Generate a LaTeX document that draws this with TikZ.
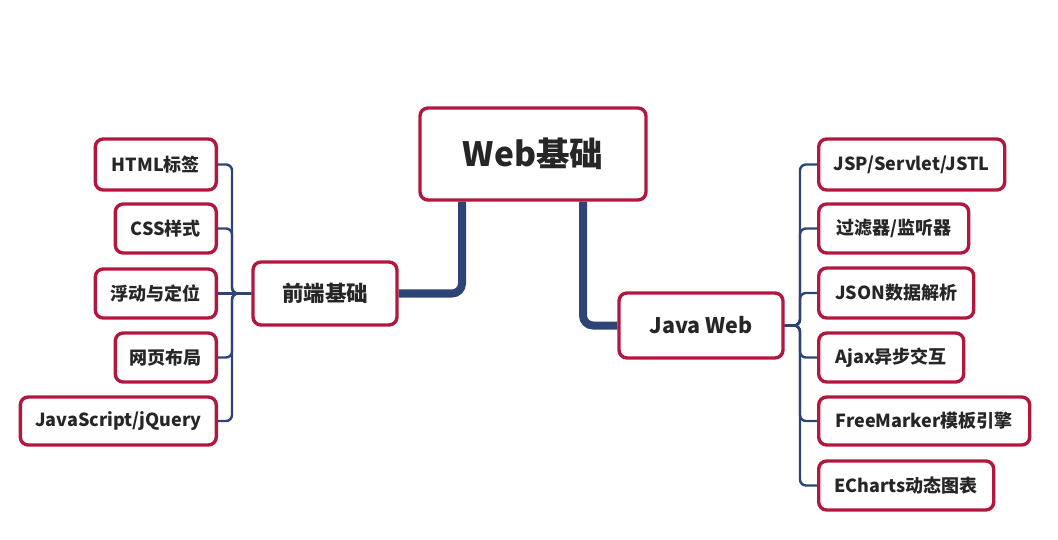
\documentclass[tikz,border=0pt]{standalone}
\usepackage{fontspec}
\newfontfamily\cjk{Noto Sans CJK SC}
\usetikzlibrary{backgrounds}
\definecolor{boxred}{RGB}{178,24,62}
\definecolor{linenavy}{RGB}{46,68,118}
\tikzset{
  box/.style={draw=boxred, line width=3.4pt, rounded corners=8pt, fill=white, inner sep=0pt,
    font=\cjk\bfseries\fontsize{18}{21}\selectfont, text=black!85},
  midbox/.style={box, font=\cjk\bfseries\fontsize{21.5}{24}\selectfont},
  rootbox/.style={box, font=\cjk\bfseries\fontsize{33.5}{38}\selectfont},
  conn/.style={draw=linenavy, line width=2.4pt, rounded corners=6pt},
  trunk/.style={draw=linenavy, line width=8pt, rounded corners=10pt},
}
\begin{document}
\begin{tikzpicture}[x=1pt,y=-1pt]
\useasboundingbox (0,0) rectangle (1058,540);
% root
\node[rootbox, minimum width=226pt, minimum height=92pt] (root) at (533,154) {Web基础};
% left branch
\node[midbox, minimum width=144pt, minimum height=63pt] (fe) at (325,293.5) {前端基础};
\node[box, minimum width=121pt, minimum height=51pt, anchor=east] (c1) at (218,164.5) {HTML标签};
\node[box, minimum width=101pt, minimum height=49pt, anchor=east] (c2) at (218,228.5) {CSS样式};
\node[box, minimum width=121pt, minimum height=49pt, anchor=east] (c3) at (218,293.5) {浮动与定位};
\node[box, minimum width=101pt, minimum height=49pt, anchor=east] (c4) at (218,357.5) {网页布局};
\node[box, minimum width=196pt, minimum height=48pt, anchor=east] (c5) at (218,421) {JavaScript/jQuery};
% right branch
\node[midbox, minimum width=164pt, minimum height=65pt] (jw) at (701,325.5) {Java Web};
\node[box, minimum width=186pt, minimum height=51pt, anchor=west] (d1) at (817,164.5) {JSP/Servlet/JSTL};
\node[box, minimum width=150pt, minimum height=49pt, anchor=west] (d2) at (817,228.5) {过滤器/监听器};
\node[box, minimum width=155pt, minimum height=50pt, anchor=west] (d3) at (817,293) {JSON数据解析};
\node[box, minimum width=145pt, minimum height=49pt, anchor=west] (d4) at (817,357.5) {Ajax异步交互};
\node[box, minimum width=211pt, minimum height=48pt, anchor=west] (d5) at (817,421) {FreeMarker模板引擎};
\node[box, minimum width=175pt, minimum height=49pt, anchor=west] (d6) at (817,485.5) {ECharts动态图表};
\coordinate (lx) at (232,0);
\coordinate (rx) at (800,0);
\begin{scope}[on background layer]
\draw[trunk] ([xshift=-71pt]root.south) |- (fe.east);
\draw[trunk] ([xshift=50pt]root.south) |- (jw.west);
\foreach \c in {c1,c2,c4,c5}{
  \draw[conn] (\c.east) -- (\c.east -| lx) -- (fe.west -| lx) -- (fe.west);
}
\draw[conn] (c3.east) -- (fe.west);
\foreach \d in {d1,d2,d3,d4,d5,d6}{
  \draw[conn] (jw.east) -- (jw.east -| rx) -- (\d.west -| rx) -- (\d.west);
}
\end{scope}
\end{tikzpicture}
\end{document}
